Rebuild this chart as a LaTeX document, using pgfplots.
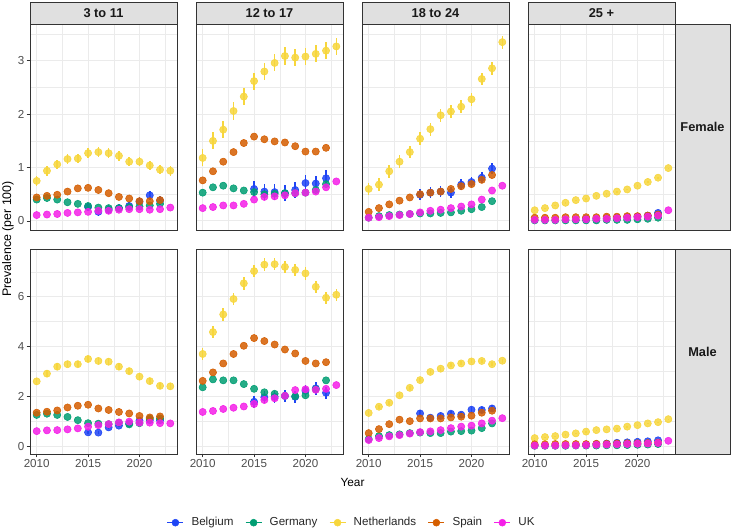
\documentclass[border=0pt]{standalone}
\usepackage{pgfplots}
\usepackage{pgfplotstable}
\pgfplotsset{compat=1.18}
\usepackage{fontspec}
\setmainfont{Liberation Sans}
\definecolor{bel}{HTML}{1F45F5}
\definecolor{ger}{HTML}{009E73}
\definecolor{nld}{HTML}{F7D63C}
\definecolor{esp}{HTML}{D55E00}
\definecolor{ukc}{HTML}{F51FE8}
\definecolor{grey20}{HTML}{333333}
\definecolor{grey30}{HTML}{4D4D4D}
\definecolor{grey92}{HTML}{EBEBEB}
\definecolor{stripfill}{HTML}{E0E0E0}

% year bel ger nld esp uk
\pgfplotstableread{
year bel ger nld esp uk
2010 nan 0.40 0.75 0.44 0.11
2011 nan 0.43 0.94 0.47 0.12
2012 nan 0.40 1.06 0.49 0.13
2013 nan 0.35 1.16 0.55 0.15
2014 nan 0.32 1.17 0.61 0.16
2015 0.26 0.28 1.27 0.62 0.17
2016 0.17 0.25 1.29 0.58 0.19
2017 0.21 0.24 1.27 0.52 0.19
2018 0.24 0.24 1.22 0.45 0.21
2019 0.28 0.26 1.11 0.42 0.22
2020 0.36 0.27 1.11 0.37 0.22
2021 0.48 0.29 1.04 0.37 0.21
2022 0.38 0.32 0.96 0.39 0.22
2023 nan nan 0.94 nan 0.25
}\tFa
\pgfplotstableread{
year bel ger nld esp uk
2010 nan 0.53 1.18 0.76 0.24
2011 nan 0.63 1.50 0.93 0.26
2012 nan 0.66 1.71 1.11 0.29
2013 nan 0.61 2.06 1.29 0.29
2014 nan 0.57 2.33 1.46 0.32
2015 0.60 0.54 2.62 1.58 0.40
2016 0.55 0.50 2.80 1.53 0.45
2017 0.54 0.51 2.96 1.49 0.46
2018 0.52 0.52 3.09 1.47 0.48
2019 0.58 0.52 3.06 1.40 0.52
2020 0.71 0.53 3.08 1.30 0.53
2021 0.70 0.58 3.13 1.30 0.55
2022 0.80 0.69 3.19 1.37 0.63
2023 nan nan 3.27 nan 0.74
}\tFb
\pgfplotstableread{
year bel ger nld esp uk
2010 nan 0.06 0.60 0.17 0.06
2011 nan 0.09 0.68 0.24 0.07
2012 nan 0.11 0.93 0.31 0.09
2013 nan 0.12 1.11 0.38 0.11
2014 nan 0.13 1.29 0.44 0.13
2015 0.49 0.14 1.54 0.50 0.16
2016 0.53 0.14 1.72 0.53 0.19
2017 0.55 0.15 1.98 0.55 0.21
2018 0.53 0.16 2.05 0.60 0.24
2019 0.68 0.19 2.14 0.65 0.27
2020 0.73 0.22 2.28 0.69 0.31
2021 0.81 0.26 2.66 0.77 0.40
2022 0.98 0.37 2.86 0.86 0.57
2023 nan nan 3.35 nan 0.66
}\tFc
\pgfplotstableread{
year bel ger nld esp uk
2010 nan 0.01 0.20 0.06 0.02
2011 nan 0.01 0.24 0.06 0.02
2012 nan 0.01 0.29 0.06 0.02
2013 nan 0.01 0.34 0.07 0.03
2014 nan 0.01 0.39 0.07 0.03
2015 0.04 0.01 0.42 0.07 0.03
2016 0.04 0.01 0.47 0.07 0.04
2017 0.05 0.02 0.51 0.08 0.04
2018 0.06 0.02 0.55 0.08 0.05
2019 0.07 0.02 0.59 0.09 0.06
2020 0.08 0.03 0.66 0.09 0.07
2021 0.10 0.04 0.73 0.10 0.08
2022 0.15 0.06 0.81 0.12 0.10
2023 nan nan 0.99 nan 0.20
}\tFd
\pgfplotstableread{
year bel ger nld esp uk
2010 nan 1.25 2.60 1.34 0.60
2011 nan 1.30 2.91 1.38 0.63
2012 nan 1.25 3.19 1.43 0.64
2013 nan 1.17 3.29 1.55 0.67
2014 nan 1.04 3.29 1.62 0.71
2015 0.55 0.92 3.50 1.66 0.78
2016 0.54 0.90 3.42 1.51 0.84
2017 0.75 0.88 3.39 1.45 0.88
2018 0.82 0.94 3.19 1.37 0.95
2019 0.91 0.87 3.01 1.31 0.98
2020 1.02 0.92 2.79 1.21 0.94
2021 1.04 1.10 2.61 1.15 0.94
2022 1.04 1.11 2.42 1.19 0.92
2023 nan nan 2.40 nan 0.91
}\tMa
\pgfplotstableread{
year bel ger nld esp uk
2010 nan 2.36 3.70 2.62 1.37
2011 nan 2.68 4.58 2.96 1.41
2012 nan 2.64 5.29 3.32 1.49
2013 nan 2.64 5.91 3.70 1.54
2014 nan 2.49 6.54 4.03 1.59
2015 1.78 2.30 7.03 4.34 1.69
2016 1.96 2.16 7.29 4.22 1.85
2017 1.98 2.10 7.31 4.08 1.92
2018 2.01 2.02 7.20 3.88 2.02
2019 1.98 2.00 7.08 3.72 2.25
2020 2.22 2.04 6.94 3.42 2.28
2021 2.32 2.28 6.40 3.32 2.26
2022 2.14 2.64 5.96 3.37 2.30
2023 nan nan 6.08 nan 2.45
}\tMb
\pgfplotstableread{
year bel ger nld esp uk
2010 nan 0.28 1.33 0.52 0.24
2011 nan 0.40 1.58 0.68 0.32
2012 nan 0.44 1.74 0.88 0.39
2013 nan 0.47 2.04 1.06 0.44
2014 nan 0.52 2.34 1.00 0.50
2015 1.31 0.54 2.65 1.11 0.56
2016 1.14 0.52 2.98 1.11 0.59
2017 1.21 0.52 3.11 1.11 0.64
2018 1.30 0.58 3.24 1.15 0.72
2019 1.26 0.60 3.32 1.18 0.78
2020 1.46 0.62 3.40 1.22 0.82
2021 1.45 0.72 3.42 1.34 0.91
2022 1.51 0.91 3.29 1.42 1.02
2023 nan nan 3.43 nan 1.12
}\tMc
\pgfplotstableread{
year bel ger nld esp uk
2010 nan 0.01 0.32 0.07 0.02
2011 nan 0.01 0.36 0.07 0.02
2012 nan 0.01 0.40 0.08 0.02
2013 nan 0.01 0.46 0.08 0.03
2014 nan 0.02 0.51 0.08 0.03
2015 0.05 0.02 0.58 0.08 0.04
2016 0.08 0.02 0.64 0.09 0.05
2017 0.10 0.03 0.67 0.09 0.06
2018 0.13 0.03 0.70 0.10 0.07
2019 0.15 0.04 0.78 0.11 0.08
2020 0.17 0.05 0.84 0.11 0.09
2021 0.19 0.06 0.91 0.12 0.10
2022 0.23 0.08 0.96 0.14 0.12
2023 nan nan 1.08 nan 0.21
}\tMd

\pgfplotsset{
  pt/.style={only marks, mark=*, mark size=2.7pt, color=#1,
    mark options={draw=none, fill=#1, fill opacity=0.85}, forget plot},
  eb/.style 2 args={error bars/.cd, y dir=both, y fixed=#2, error mark=none,
    error bar style={line width=1.2pt, color=#1}},
  panel/.style={
    scale only axis, width=110.25pt, anchor=south west,
    xmin=2009.35, xmax=2023.65,
    xtick={2010,2015,2020}, minor xtick={2012.5,2017.5,2022.5},
    xtick pos=bottom, ytick pos=left,
    grid=both,
    major grid style={draw=grey92, line width=0.8pt},
    minor grid style={draw=grey92, line width=0.4pt},
    axis line style={draw=grey20, line width=0.6pt},
    axis background/.style={fill=white},
    tick align=outside, major tick length=2.5pt, minor tick length=0pt,
    ticklabel style={font=\fontsize{8.7}{10}\selectfont, text=grey30},
    xticklabel style={inner sep=1.5pt},
    yticklabel style={inner sep=1.5pt},
    xticklabels={}, yticklabels={},
    xtick style={draw=none}, ytick style={draw=none},
  },
  row1/.style={height=154.5pt, ymin=-0.17, ymax=3.69,
    ytick={0,1,2,3}, minor ytick={0.5,1.5,2.5,3.5}},
  row2/.style={height=153.75pt, ymin=-0.32, ymax=7.92,
    ytick={0,2,4,6}, minor ytick={1,3,5,7}},
  bottom/.style={xticklabels={2010,2015,2020},
    xtick style={draw=grey20, line width=0.6pt}},
  left/.style={ytick style={draw=grey20, line width=0.6pt}},
}

\newcommand{\series}[3]{%
  \addplot[pt=bel, eb={bel}{#2}] table[x=year, y=bel] {#1};
  \addplot[pt=ger] table[x=year, y=ger] {#1};
  \addplot[pt=nld, eb={nld}{#3}] table[x=year, y=nld] {#1};
  \addplot[pt=esp] table[x=year, y=esp] {#1};
  \addplot[pt=ukc] table[x=year, y=uk] {#1};
}

\begin{document}
\begin{tikzpicture}
\path[use as bounding box] (0pt,0pt) rectangle (548.25pt,-396pt);

% Row 1 (Female)
\begin{axis}[panel, row1, left, yticklabels={0,1,2,3}, at={(22.5pt,-172.5pt)}]
\series{\tFa}{0.08}{0.09}
\end{axis}
\begin{axis}[panel, row1, at={(147pt,-172.5pt)}]
\series{\tFb}{0.15}{0.16}
\end{axis}
\begin{axis}[panel, row1, at={(271.5pt,-172.5pt)}]
\series{\tFc}{0.10}{0.12}
\end{axis}
\begin{axis}[panel, row1, at={(396pt,-172.5pt)}]
\series{\tFd}{0.01}{0.01}
\end{axis}

% Row 2 (Male)
\begin{axis}[panel, row2, left, bottom, yticklabels={0,2,4,6}, at={(22.5pt,-340.5pt)},
  legend style={at={(2.19,-0.335)}, anchor=center, draw=none, fill=none,
    legend columns=5, font=\fontsize{8.7}{10}\selectfont, text=black!85,
    /tikz/every odd column/.append style={column sep=3.5pt},
    /tikz/every even column/.append style={column sep=6.5pt}},
  legend image code/.code={\draw[line width=1.2pt,#1] (0pt,0pt) -- (12pt,0pt);
    \fill[#1] (6pt,0pt) circle (2.6pt);}]
\series{\tMa}{0.05}{0.13}
\addlegendimage{color=bel}\addlegendentry{Belgium}
\addlegendimage{color=ger}\addlegendentry{Germany}
\addlegendimage{color=nld}\addlegendentry{Netherlands}
\addlegendimage{color=esp}\addlegendentry{Spain}
\addlegendimage{color=ukc}\addlegendentry{UK}
\end{axis}
\begin{axis}[panel, row2, bottom, at={(147pt,-340.5pt)}]
\series{\tMb}{0.25}{0.25}
\end{axis}
\begin{axis}[panel, row2, bottom, at={(271.5pt,-340.5pt)}]
\series{\tMc}{0.12}{0.08}
\end{axis}
\begin{axis}[panel, row2, bottom, at={(396pt,-340.5pt)}]
\series{\tMd}{0.01}{0.01}
\end{axis}

% Strips
\begin{scope}[every node/.style={font=\fontsize{9.6}{11}\selectfont\bfseries, text=black!90}]
\draw[fill=stripfill, draw=grey20, line width=0.6pt] (22.5pt,-1.5pt) rectangle (132.75pt,-18pt);
\node at (77.6pt,-9.75pt) {3 to 11};
\draw[fill=stripfill, draw=grey20, line width=0.6pt] (147pt,-1.5pt) rectangle (257.25pt,-18pt);
\node at (202.1pt,-9.75pt) {12 to 17};
\draw[fill=stripfill, draw=grey20, line width=0.6pt] (271.5pt,-1.5pt) rectangle (381.75pt,-18pt);
\node at (326.6pt,-9.75pt) {18 to 24};
\draw[fill=stripfill, draw=grey20, line width=0.6pt] (396pt,-1.5pt) rectangle (506.25pt,-18pt);
\node at (451.1pt,-9.75pt) {25 +};
\draw[fill=stripfill, draw=grey20, line width=0.6pt] (506.25pt,-18pt) rectangle (547.5pt,-172.5pt);
\node at (526.9pt,-95.25pt) {Female};
\draw[fill=stripfill, draw=grey20, line width=0.6pt] (506.25pt,-186.75pt) rectangle (547.5pt,-340.5pt);
\node at (526.9pt,-263.6pt) {Male};
\end{scope}

% Axis titles
\node[rotate=90, font=\fontsize{9.3}{11}\selectfont] at (6pt,-179.25pt) {Prevalence (per 100)};
\node[font=\fontsize{8.9}{11}\selectfont] at (264.4pt,-362pt) {Year};
\end{tikzpicture}
\end{document}
